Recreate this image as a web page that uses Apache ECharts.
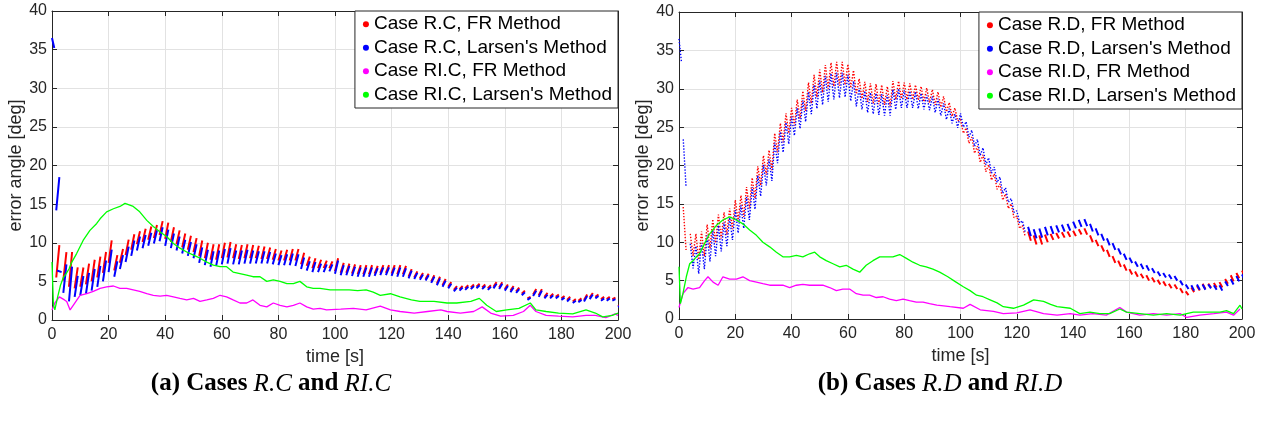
<!DOCTYPE html>
<html><head><meta charset="utf-8">
<script src="https://cdn.jsdelivr.net/npm/echarts@6/dist/echarts.min.js"></script>
<style>html,body{margin:0;padding:0;background:#fff}#c{width:1268px;height:437px}</style>
</head><body><div id="c"></div><script>
// ---------- DATA ----------
// streak times [s]
const T = [1.5,4,6,8,10,12,14,16,18,20,22,24,26,28,30,32,34,36,38,40,42,44,46,48,50,52,54,56,58,60,
62,64,66,68,70,72,74,76,78,80,82,84,86,88,90,92,94,96,98,100,102,104,106,108,110,112,114,116,118,120,
122,124,126,128,130,132,134,136,138,140,142,144,146,148,150,152,154,156,158,160,162,164,166,168,170,172,174,176,178,180,
182,184,186,188,190,192,194,196,198,200];

// Case R.C, FR Method: streak low / high values [deg]
const rcFrLo = [5.5,5.1,4.3,4.1,4.3,4.6,5.0,5.5,6.1,7.4,
6.4,7.4,8.4,9.1,9.8,10.1,10.4,10.6,11.0,10.5,
10.1,9.8,9.4,9.1,8.8,8.3,8.0,7.8,7.8,8.0,
8.1,8.0,7.9,8.0,8.0,8.0,7.9,7.9,7.8,7.7,
7.7,7.7,7.7,7.2,7.0,6.7,6.7,6.7,6.7,6.3,
6.1,6.1,6.0,5.9,5.9,5.9,6.0,6.1,6.1,6.0,
5.9,5.9,5.6,5.5,5.4,5.3,5.0,4.7,4.5,4.3,
3.9,4.0,4.1,4.2,4.3,4.2,4.1,4.3,4.2,4.0,
3.8,3.7,3.4,2.8,3.3,3.2,3.0,3.0,3.0,2.8,
2.6,2.4,2.5,2.6,2.9,3.0,2.7,2.7,2.7,1.8];
const rcFrHi = [9.7,8.8,8.8,6.8,6.8,7.3,7.8,8.2,8.8,10.3,
8.4,9.2,10.4,11.1,11.5,11.8,12.1,12.3,12.8,12.6,
12.0,11.6,11.2,10.9,10.6,10.3,10.0,9.8,9.8,10.0,
10.1,9.8,9.7,9.8,9.7,9.6,9.5,9.4,9.2,9.0,
9.1,9.2,9.2,8.7,8.2,8.0,7.8,7.7,7.6,8.0,
7.4,7.3,7.2,7.1,7.1,7.1,7.0,7.1,7.1,7.1,
7.1,7.0,6.6,6.3,6.1,6.0,5.8,5.6,5.3,4.9,
4.4,4.4,4.5,4.6,4.7,4.6,4.5,4.9,4.9,4.6,
4.4,4.2,3.8,3.0,4.0,4.0,3.5,3.4,3.3,3.1,
3.0,2.7,2.8,3.3,3.5,3.3,3.0,3.0,2.9,2.0];
// Case R.C, Larsen's Method
const rcLarStart = [[0,36.5],[0.8,35.2],'-',[1.8,6.4],[3.4,6.2]];
const rcLarLo = [14.2,3.5,2.4,3.0,3.2,3.4,3.8,4.3,5.0,6.2,
5.6,6.6,7.5,8.3,9.0,9.3,9.6,9.9,10.2,9.6,
9.3,9.0,8.6,8.3,8.0,7.4,7.1,6.9,7.0,7.2,
7.3,7.2,7.2,7.3,7.3,7.3,7.3,7.3,7.2,7.1,
7.1,7.1,7.0,6.6,6.4,6.2,6.2,6.2,6.3,6.0,
5.8,5.8,5.7,5.6,5.6,5.6,5.7,5.8,5.8,5.7,
5.6,5.6,5.4,5.3,5.2,5.1,4.8,4.5,4.3,4.1,
3.7,3.8,3.9,4.0,4.1,4.0,3.9,4.1,4.0,3.8,
3.6,3.5,3.2,2.6,3.1,3.0,2.8,2.8,2.8,2.6,
2.4,2.2,2.3,2.4,2.7,2.8,2.5,2.5,2.5,1.7];
const rcLarHi = [18.5,7.2,6.9,5.7,5.7,6.1,6.6,7.0,7.7,9.1,
7.6,8.4,9.5,10.3,10.8,11.0,11.3,11.6,12.0,11.7,
11.2,10.8,10.4,10.1,9.8,9.4,9.1,8.9,9.0,9.2,
9.3,9.0,9.0,9.1,9.0,8.9,8.9,8.8,8.6,8.4,
8.5,8.6,8.5,8.1,7.6,7.5,7.3,7.2,7.2,7.7,
7.1,7.0,6.9,6.8,6.8,6.8,6.7,6.8,6.8,6.8,
6.8,6.7,6.4,6.1,5.9,5.8,5.6,5.4,5.1,4.7,
4.2,4.2,4.3,4.4,4.5,4.4,4.3,4.7,4.7,4.4,
4.2,4.0,3.6,2.9,3.8,3.8,3.3,3.2,3.1,2.9,
2.8,2.5,2.6,3.1,3.3,3.1,2.8,2.8,2.7,1.9];
// Case RI.C, FR Method  [t, deg]
const riCFr = [[0,1.3],[1,2.2],[2.6,3],[4.4,2.6],[5.2,2.4],[6.4,1.3],[7.5,1.9],[9.9,3.2],[12.3,3.4],[14.6,3.7],[17,4.1],[19.3,4.3],[21.7,4.4],[24,4.1],[26.4,4.1],[28.7,3.9],[31,3.7],[33.5,3.4],[35.8,3.2],[38.2,3.1],[40.5,3.2],[42.9,3],[45.2,2.8],[47.6,2.6],[50,2.8],[52.3,2.4],[54.7,2.6],[57,2.8],[59.4,3.2],[61.7,3],[64,2.6],[66.4,2.2],[68.8,2.2],[71,2.6],[73.5,1.9],[75.9,1.7],[78.2,2.2],[80.6,1.9],[83,1.7],[85.3,1.9],[87.6,2.2],[90,1.7],[92.3,1.4],[94.7,1.5],[97,1.3],[102,1.4],[106.5,1.5],[111,1.3],[116,1.8],[119.6,1.3],[123,1.1],[128,0.9],[132.7,1.1],[137.4,1.3],[139.6,1.1],[144.3,0.9],[149,1.1],[152,1.7],[155,0.9],[158.5,0.5],[163,0.6],[166.6,1.1],[169,1.9],[171,1.1],[174.6,0.6],[179,0.5],[184,0.4],[188.7,0.6],[192,0.6],[195.7,0.3],[199,0.8],[200,0.6]];
// Case RI.C, Larsen's Method
const riCLar = [[0,7.5],[0.5,2],[1,1.3],[2,3],[3,4.5],[4,5.5],[5,6],[6,6.6],[7,7.5],[8.7,8.6],[11,10.3],[13.4,11.6],[15.8,12.5],[17,13.1],[19.3,14],[21.7,14.4],[24,14.7],[25.8,15.1],[28.7,14.7],[31,14],[33.5,12.9],[35.8,12.1],[38.2,11.4],[40.5,10.8],[42.9,9.9],[45.2,9.3],[47.6,8.8],[50,8.4],[52.3,8],[54.7,7.5],[57,7.1],[59.4,6.9],[61.7,6.9],[64,6.2],[66.4,6],[68.8,5.8],[71,5.6],[73.5,5.6],[75.9,5],[78.2,5.2],[80.6,5],[83,4.7],[85.3,4.7],[87.6,5],[90,4.3],[92.3,4.1],[94.7,4.1],[98.3,3.9],[102,3.9],[105,3.9],[108,3.8],[111,3.9],[113.5,3.6],[116,3.2],[119.6,3.4],[123,3],[127,2.6],[130,2.4],[135,2.4],[139.6,2.2],[143,2.2],[148,2.4],[151,2.8],[153.6,1.9],[157,1.1],[160.7,1.3],[165,1.5],[169,2.2],[171,1.3],[174.6,1.1],[179,0.9],[184,0.8],[188.7,1.3],[192,0.9],[194.6,0.4],[198,0.6],[200,0.9]];

// Case R.D, FR Method
const rdFrLo = [9.0,8.2,7.7,8.2,9.2,9.9,10.5,11.0,11.7,12.7,
13.3,14.4,15.7,17.4,18.8,19.4,21.7,23.0,24.2,25.2,
26.1,27.1,28.1,28.9,29.5,30.0,30.3,30.4,30.5,30.1,
29.3,28.7,28.3,28.1,28.0,27.9,27.8,28.6,28.7,28.6,
28.6,28.5,28.3,28.2,27.9,27.6,27.0,26.4,25.8,24.2,
22.9,21.6,20.4,19.2,18.1,16.9,15.5,14.4,13.2,11.8,
10.7,10.2,9.7,9.7,10.0,10.3,10.5,10.6,10.7,10.8,
11.0,11.0,10.0,9.5,8.8,8.1,7.3,6.8,6.3,5.8,
5.5,5.3,5.0,4.8,4.5,4.3,4.0,3.9,3.4,3.1,
3.5,3.7,3.9,4.1,4.1,4.1,4.6,4.9,5.3,5.6];
const rdFrHi = [14.6,11.1,11.1,11.4,12.3,13.0,13.6,13.9,14.4,15.5,
16.1,17.2,18.4,19.9,21.3,22.0,24.2,25.5,26.8,27.5,
28.6,29.7,30.8,31.8,32.5,33.1,33.4,33.5,33.5,33.2,
32.4,31.3,30.9,30.7,30.6,30.5,30.3,31.0,31.0,30.8,
30.7,30.5,30.3,30.1,29.9,29.6,29.0,28.2,27.5,26.0,
24.9,23.7,22.5,21.4,20.1,18.9,17.6,16.3,15.0,13.4,
12.2,11.4,10.9,10.9,11.0,11.1,11.2,11.3,11.4,11.5,
11.7,11.8,10.9,10.3,9.6,9.0,8.2,7.6,7.1,6.5,
6.2,5.9,5.7,5.4,5.1,4.9,4.6,4.5,4.0,3.6,
4.1,4.3,4.6,4.6,4.7,4.8,5.2,5.7,6.0,6.3];
// Case R.D, Larsen's Method
const rdLarStart = [[0,36.5],[0.9,33.4]];
const rdLarLo = [17.2,6.6,5.9,6.5,7.5,8.2,8.8,9.5,10.3,11.2,
11.8,12.9,14.3,16.0,17.4,18.0,20.3,21.7,22.8,23.9,
24.8,25.7,26.7,27.4,27.9,28.3,28.6,28.8,28.9,28.4,
27.7,27.3,26.9,26.7,26.6,26.5,26.5,27.3,27.5,27.5,
27.5,27.4,27.3,27.2,26.9,26.5,26.0,25.5,24.9,25.0,
23.7,22.5,21.3,20.1,19.0,17.8,16.4,15.2,13.9,12.5,
11.3,10.8,10.5,10.6,10.9,11.1,11.3,11.4,11.5,11.8,
12.0,12.1,11.4,10.9,10.2,9.6,9.0,8.4,7.7,7.3,
6.8,6.5,6.3,6.0,5.6,5.4,5.2,5.0,4.4,3.9,
3.7,3.8,3.8,4.0,3.8,3.7,4.3,4.5,4.9,5.1];
const rdLarHi = [23.4,9.8,9.5,9.9,10.9,11.6,12.2,12.6,13.2,14.2,
14.8,15.9,17.2,18.7,20.1,20.8,23.0,24.4,25.6,26.4,
27.5,28.5,29.6,30.5,31.1,31.7,32.0,32.1,32.1,31.8,
31.0,30.1,29.7,29.5,29.4,29.3,29.2,29.9,30.0,29.8,
29.7,29.6,29.4,29.2,29.0,28.7,28.1,27.4,26.7,26.8,
25.7,24.6,23.4,22.3,21.0,19.8,18.5,17.1,15.7,14.1,
12.8,12.0,11.7,11.8,12.0,12.1,12.2,12.3,12.4,12.7,
12.9,13.0,12.4,11.8,11.1,10.5,9.9,9.2,8.5,8.0,
7.5,7.2,7.0,6.6,6.2,6.0,5.8,5.6,5.0,4.5,
4.4,4.5,4.5,4.5,4.4,4.4,4.9,5.2,5.6,5.8];
// Case RI.D, FR Method
const riDFr = [[0,1.5],[1.4,3.3],[3.2,4.1],[5,3.9],[7.3,4.1],[9.1,5],[10.3,5.5],[12.1,4.8],[13.9,4.4],[15.6,5.5],[18,5.2],[20.4,5.2],[22.7,5.5],[25.1,5],[27.5,4.8],[29.8,4.6],[32.2,4.4],[34.6,4.4],[36.9,4.4],[39.3,4.1],[41.7,4.4],[44,4.5],[46.4,4.4],[48.8,4.4],[51.1,4.4],[53.5,4.1],[55.9,3.7],[58.2,3.9],[60.6,3.9],[63,3.3],[65.4,3.1],[67.7,3.1],[70.1,2.8],[72.5,2.9],[74.8,2.6],[77.2,2.4],[79.6,2.6],[81.9,2.4],[84.3,2.2],[86.7,2.2],[89,2],[91.6,1.8],[94,1.7],[96.3,1.6],[101,1.4],[103.4,1.9],[107,1.2],[111.7,1],[115.2,0.7],[120,0.8],[124.7,1.2],[129.5,0.7],[134.3,0.5],[139,0.7],[142.4,0.5],[147,0.7],[151.8,0.5],[156.6,1.5],[159,0.9],[163.7,0.5],[168.5,0.7],[173.2,0.5],[178,0.7],[180.4,0.2],[185,0.5],[190,0.7],[194.5,0.9],[197,0.5],[199.3,1.3]];
// Case RI.D, Larsen's Method
const riDLar = [[0,6.8],[0.5,2],[1.4,3.3],[2.6,5.5],[3.8,7.2],[5,7.6],[6.2,8.1],[7.3,8.5],[8.5,9.4],[9.7,10.3],[10.9,11.1],[13.3,12.2],[15.6,12.9],[18,13.3],[20.4,12.9],[22.7,12.4],[25.1,11.6],[27.5,10.9],[29.8,10],[32.2,9.4],[34.6,8.7],[36.9,8.1],[39.3,8.1],[41.7,8.3],[44,8.1],[46.4,8.5],[48.2,8.7],[50,8.1],[52.3,7.6],[54.7,7.2],[57.1,6.8],[59.4,7],[61.8,6.5],[64.2,6.1],[66.5,7],[68.9,7.6],[71.3,8.1],[73.6,8.1],[76,8.1],[78.4,8.4],[80.8,7.9],[83.1,7.4],[85.5,7],[87.8,6.8],[90.2,6.5],[92.6,6.1],[95.5,5.5],[98,4.9],[101,4.2],[103.4,3.7],[105.7,3.1],[108,2.9],[110.5,2.5],[113,2.1],[115.2,1.6],[118.8,1.4],[122.4,1.8],[126,2.5],[129.5,2.3],[132,1.9],[134.3,1.6],[139,1.4],[142.4,0.7],[146,0.9],[149.5,0.7],[153,0.7],[156.6,1.3],[159,0.9],[163.7,0.7],[168.5,0.5],[173.2,0.7],[178,0.5],[182.7,0.9],[187.4,0.9],[192.2,0.9],[194.5,1.1],[197,0.7],[199.3,1.8],[200,1.3]];

const namesC = ['Case R.C, FR Method', "Case R.C, Larsen's Method", 'Case RI.C, FR Method', "Case RI.C, Larsen's Method"];
const namesD = ['Case R.D, FR Method', "Case R.D, Larsen's Method", 'Case RI.D, FR Method', "Case RI.D, Larsen's Method"];
const xTicks = {min: 0, max: 200, interval: 20};
const yTicks = {min: 0, max: 40, interval: 5};

// ---------- RENDER ----------
const FONT = 'Liberation Sans, Arial, sans-serif';
const AX = '#262626';
// opts: w = streak duration, down = slope direction, zig = connect streaks, from/to = time window
function streaks(lo, hi, o) {
  const d = o.prefix ? o.prefix.slice() : [];
  if (o.prefix) d.push('-');
  for (let i = 0; i < T.length; i++) {
    if (T[i] < o.from || T[i] >= o.to) continue;
    if (o.down) { d.push([T[i], hi[i]]); d.push([T[i] + o.w, lo[i]]); }
    else { d.push([T[i], lo[i]]); d.push([T[i] + o.w, hi[i]]); }
    if (!o.zig || T[i] < 3) d.push('-');
  }
  return d;
}
function xAx(g, top) {
  return {type: 'value', gridIndex: g, min: xTicks.min, max: xTicks.max, interval: xTicks.interval,
    position: top ? 'top' : 'bottom',
    axisLine: {show: true, onZero: false, lineStyle: {color: AX, width: 1}},
    axisTick: {show: true, inside: true, length: 5, lineStyle: {color: AX}},
    axisLabel: {show: !top, color: AX, fontSize: 16, margin: 7, fontFamily: FONT},
    splitLine: {show: !top, lineStyle: {color: '#e2e2e2', width: 1}},
    name: top ? '' : 'time [s]', nameLocation: 'middle', nameGap: 26,
    nameTextStyle: {color: AX, fontSize: 18, fontFamily: FONT}};
}
function yAx(g, right) {
  return {type: 'value', gridIndex: g, min: yTicks.min, max: yTicks.max, interval: yTicks.interval,
    position: right ? 'right' : 'left',
    axisLine: {show: true, onZero: false, lineStyle: {color: AX, width: 1}},
    axisTick: {show: true, inside: true, length: 5, lineStyle: {color: AX}},
    axisLabel: {show: !right, color: AX, fontSize: 16, margin: 5, fontFamily: FONT},
    splitLine: {show: !right, lineStyle: {color: '#e2e2e2', width: 1}},
    name: right ? '' : 'error angle [deg]', nameLocation: 'middle', nameGap: 23,
    nameTextStyle: {color: AX, fontSize: 18, fontFamily: FONT}};
}
function lineS(name, data, color, xi, width, dash, z) {
  return {name, type: 'line', data, xAxisIndex: xi, yAxisIndex: xi, showSymbol: false, symbol: 'none',
    connectNulls: false, color, z, silent: true,
    lineStyle: {color, width, type: dash || 'solid'}};
}
function legendOf(names, right, top) {
  return {data: names, orient: 'vertical', right, top, selectedMode: false,
    backgroundColor: '#fff', borderColor: AX, borderWidth: 1, borderRadius: 0,
    padding: [3, 6, 3, 8], itemGap: 3, icon: 'circle', itemWidth: 6, itemHeight: 6,
    textStyle: {color: '#000', fontSize: 19, fontFamily: FONT, lineHeight: 20.5}};
}
const cap = (a, b, c) => '{b|' + a + ' Cases }{i|' + b + '}{b| and }{i|' + c + '}';
const capRich = {b: {fontFamily: 'Liberation Serif', fontWeight: 'bold', fontSize: 25, fill: '#000'},
  i: {fontFamily: 'Liberation Serif', fontStyle: 'italic', fontSize: 25, fill: '#000'}};

const chart = echarts.init(document.getElementById('c'), null, {renderer: 'canvas'});
chart.setOption({
  animation: false,
  backgroundColor: '#fff',
  grid: [{left: 52, right: 650, top: 11, bottom: 117}, {left: 679, right: 26, top: 12, bottom: 118}],
  xAxis: [xAx(0, false), xAx(0, true), xAx(1, false), xAx(1, true)],
  yAxis: [yAx(0, false), yAx(0, true), yAx(1, false), yAx(1, true)],
  legend: [legendOf(namesC, 650, 11), legendOf(namesD, 26, 12)],
  series: [
    lineS(namesC[0], streaks(rcFrLo, rcFrHi, {w: 1.1, from: 0, to: 999}), '#ff0000', 0, 2, null, 2),
    lineS(namesC[1], streaks(rcLarLo, rcLarHi, {w: 1.1, from: 0, to: 999, prefix: rcLarStart}), '#0000ff', 0, 2, null, 3),
    lineS(namesC[2], riCFr, '#ff00ff', 0, 1.3, null, 4),
    lineS(namesC[3], riCLar, '#00ff00', 0, 1.3, null, 5),
    lineS(namesD[0], streaks(rdFrLo, rdFrHi, {w: 1.0, down: true, zig: true, from: 0, to: 123}), '#ff0000', 2, 1.4, [1.4, 1.6], 2),
    lineS(namesD[0], streaks(rdFrLo, rdFrHi, {w: 1.0, down: true, from: 123, to: 999}), '#ff0000', 2, 2, null, 2),
    lineS(namesD[1], streaks(rdLarLo, rdLarHi, {w: 1.0, down: true, zig: true, from: 0, to: 123, prefix: rdLarStart}), '#0000ff', 2, 1.4, [1.4, 1.6], 3),
    lineS(namesD[1], streaks(rdLarLo, rdLarHi, {w: 1.0, down: true, from: 123, to: 999}), '#0000ff', 2, 2, null, 3),
    lineS(namesD[2], riDFr, '#ff00ff', 2, 1.3, null, 4),
    lineS(namesD[3], riDLar, '#00ff00', 2, 1.3, null, 5)
  ],
  graphic: [
    {type: 'text', x: 271, y: 384, style: {text: cap('(a)', 'R.C', 'RI.C'), rich: capRich,
      align: 'center', verticalAlign: 'middle', textAlign: 'center', textVerticalAlign: 'middle'}},
    {type: 'text', x: 940, y: 384, style: {text: cap('(b)', 'R.D', 'RI.D'), rich: capRich,
      align: 'center', verticalAlign: 'middle', textAlign: 'center', textVerticalAlign: 'middle'}}
  ]
});
</script></body></html>
